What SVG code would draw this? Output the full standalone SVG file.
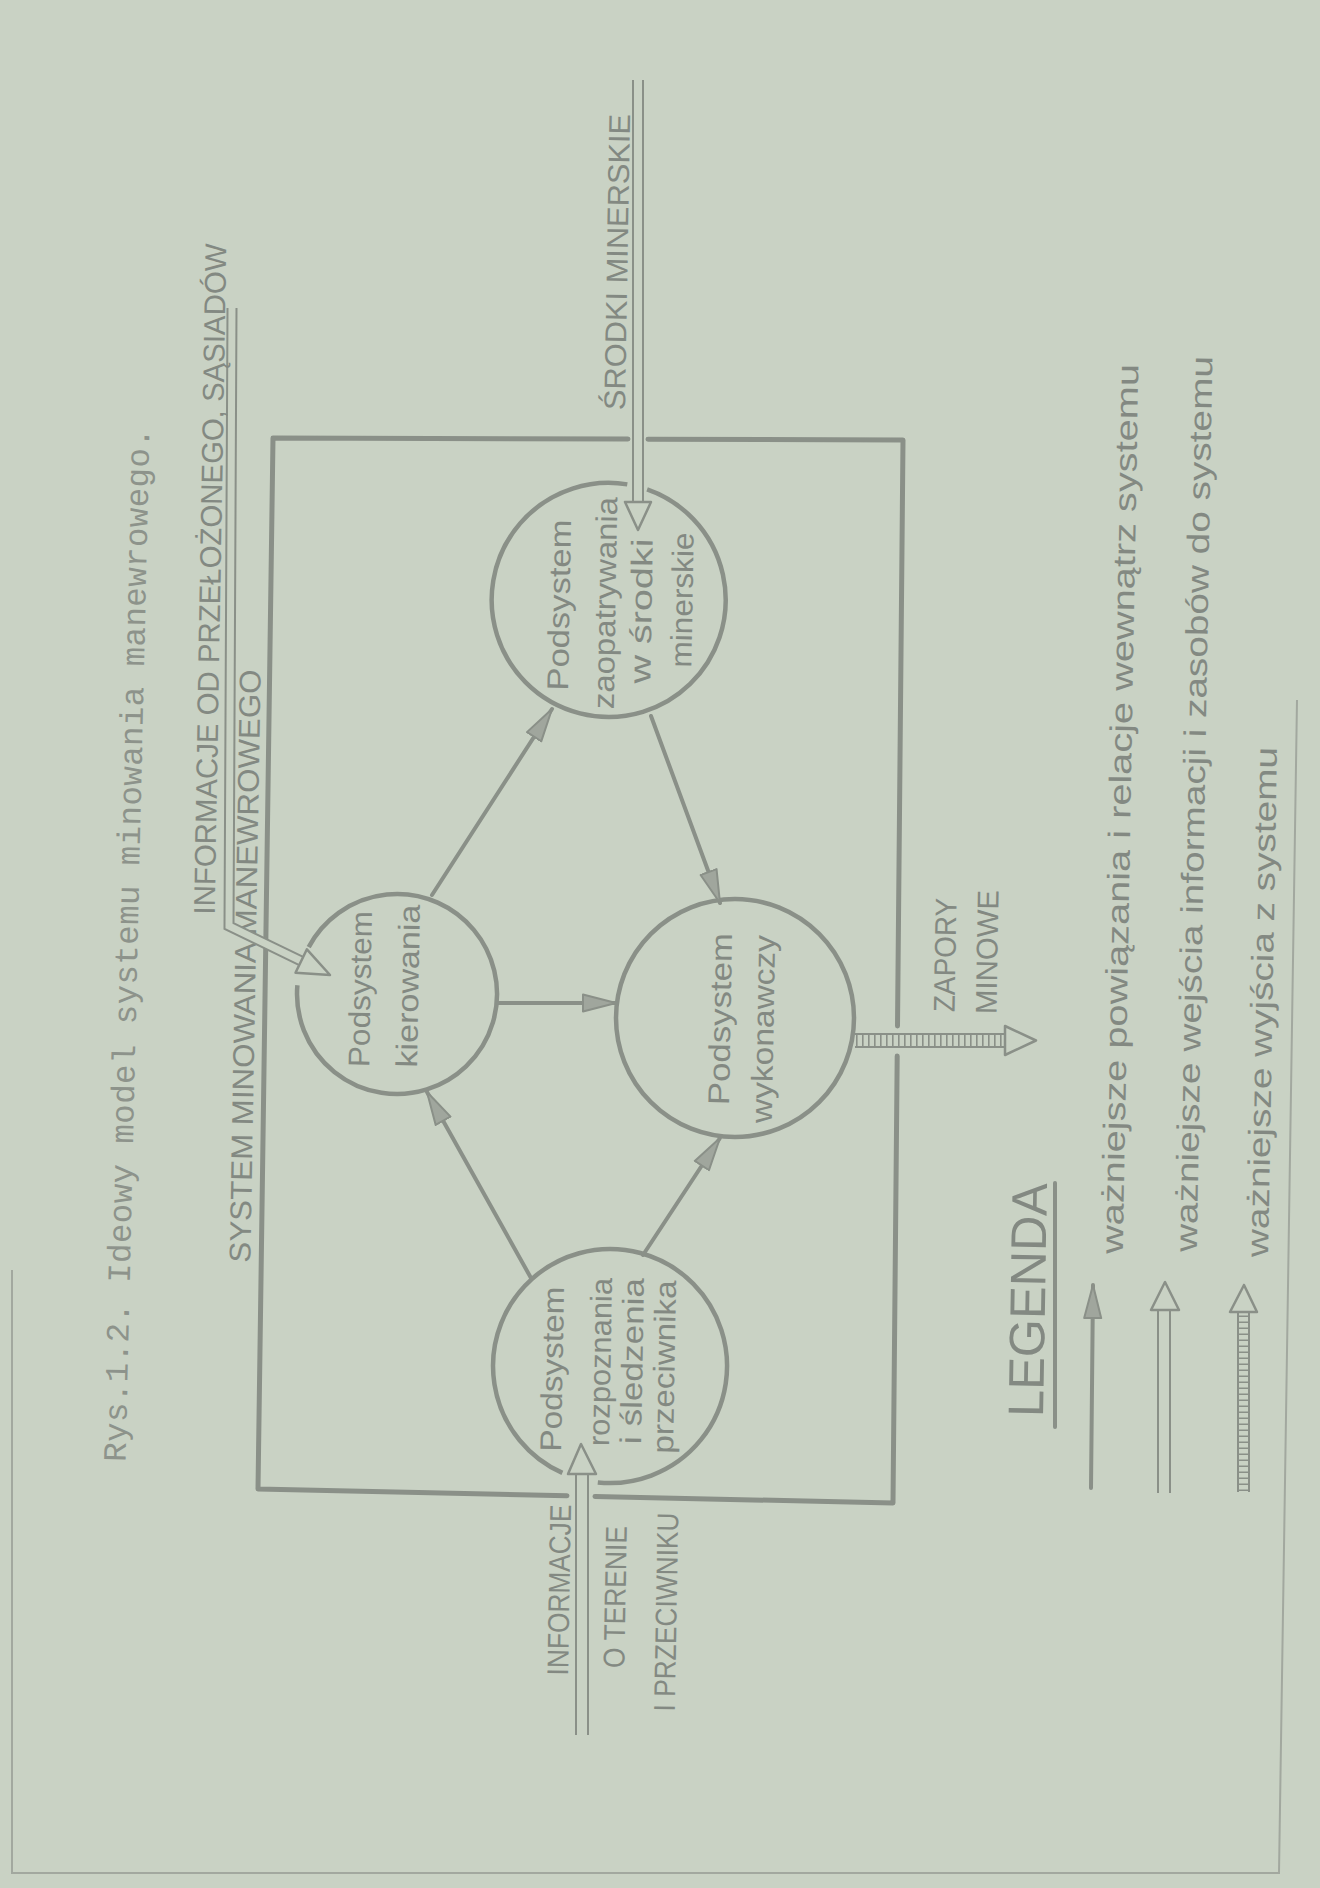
<svg xmlns="http://www.w3.org/2000/svg" width="1320" height="1888" viewBox="0 0 1320 1888">
<style>
  .ln{fill:none;stroke:#8a9088;stroke-width:4;stroke-linecap:round;stroke-linejoin:round}
  .bd{fill:none;stroke:#8a9088;stroke-width:5;stroke-linejoin:round;stroke-linecap:round}
  .node{fill:none;stroke:#8a9088;stroke-width:4.5}
  .out{fill:none;stroke:#8a9088;stroke-linejoin:miter}
  .inn{fill:none;stroke:#c9d2c4;stroke-linejoin:miter}
  .rung{fill:none;stroke:#8a9088;stroke-dasharray:1.6 4.4}
  .head{fill:#c9d2c4;stroke:#8a9088;stroke-width:2.5;stroke-linejoin:round}
  .t{font-family:"Liberation Sans","DejaVu Sans",sans-serif;fill:#838982;font-size:30px;text-anchor:middle;dominant-baseline:central}
  .cap{font-size:30px}
  .lg{font-size:31px}
  .tm{font-family:"Liberation Mono","DejaVu Sans Mono",monospace;fill:#8d938b;font-size:32.5px;text-anchor:middle;dominant-baseline:central}
  .edge{fill:none;stroke:#a2a89f;stroke-width:2}
</style>
<defs>
  <marker id="ah" markerUnits="userSpaceOnUse" markerWidth="36" markerHeight="22" viewBox="0 0 36 22" refX="34" refY="11" orient="auto">
    <path d="M1,2.5 L34,11 L1,19.5 Z" fill="#a0a69d" stroke="#8a9088" stroke-width="2" stroke-linejoin="round"/>
  </marker>
</defs>
<rect x="0" y="0" width="1320" height="1888" fill="#c9d2c4"/>

<g id="page-edge">
  <path class="edge" d="M1297 700 L1279 1873 L12 1873 L12 1270"/>
</g>

<text id="title" class="tm" transform="translate(129 945) rotate(-88.67)" textLength="1034">Rys.1.2. Ideowy model systemu minowania manewrowego.</text>

<g id="system-boundary">
  <path class="bd" d="M628 439.1 L273 438 L258 1489 L567 1495.8 M595 1496.4 L893 1503 L897.2 1056 M897.5 1026 L903 440 L648 439.2"/>
  <text class="t cap" transform="translate(245 966) rotate(-89)" textLength="593" lengthAdjust="spacingAndGlyphs">SYSTEM MINOWANIA MANEWROWEGO</text>
</g>

<g id="node-kierowania">
  <path class="node" d="M308.7 947.1 A100 100 0 1 1 297.4 985.3"/>
  <text class="t" transform="translate(360 989) rotate(-89)" textLength="156" lengthAdjust="spacingAndGlyphs">Podsystem</text>
  <text class="t" transform="translate(408 986) rotate(-89)" textLength="163" lengthAdjust="spacingAndGlyphs">kierowania</text>
</g>

<g id="node-zaopatrywania">
  <path class="node" d="M647.1 489.4 A117 117 0 1 1 627.3 484.4"/>
  <text class="t" transform="translate(559 605) rotate(-89)" textLength="171" lengthAdjust="spacingAndGlyphs">Podsystem</text>
  <text class="t" transform="translate(605 603) rotate(-89)" textLength="212" lengthAdjust="spacingAndGlyphs">zaopatrywania</text>
  <text class="t" transform="translate(641 611) rotate(-89)" textLength="145" lengthAdjust="spacingAndGlyphs">w środki</text>
  <text class="t" transform="translate(682 600) rotate(-89)" textLength="135" lengthAdjust="spacingAndGlyphs">minerskie</text>
</g>

<g id="node-wykonawczy">
  <circle class="node" cx="735" cy="1018" r="119"/>
  <text class="t" transform="translate(720 1019) rotate(-89)" textLength="172" lengthAdjust="spacingAndGlyphs">Podsystem</text>
  <text class="t" transform="translate(763 1029) rotate(-89)" textLength="188" lengthAdjust="spacingAndGlyphs">wykonawczy</text>
</g>

<g id="node-rozpoznania">
  <path class="node" d="M562.4 1472.9 A117 117 0 1 1 597.8 1482.4"/>
  <text class="t" transform="translate(552 1369) rotate(-89)" textLength="165" lengthAdjust="spacingAndGlyphs">Podsystem</text>
  <text class="t" transform="translate(600 1362) rotate(-89)" textLength="168" lengthAdjust="spacingAndGlyphs">rozpoznania</text>
  <text class="t" transform="translate(632 1361) rotate(-89)" textLength="166" lengthAdjust="spacingAndGlyphs">i śledzenia</text>
  <text class="t" transform="translate(664 1367) rotate(-89)" textLength="173" lengthAdjust="spacingAndGlyphs">przeciwnika</text>
</g>

<g id="connectors">
  <line class="ln" x1="531" y1="1278" x2="427" y2="1092" marker-end="url(#ah)"/>
  <line class="ln" x1="643" y1="1255" x2="720" y2="1138" marker-end="url(#ah)"/>
  <line class="ln" x1="498" y1="1003" x2="616" y2="1003" marker-end="url(#ah)"/>
  <line class="ln" x1="432" y1="895" x2="552" y2="709" marker-end="url(#ah)"/>
  <line class="ln" x1="651" y1="716" x2="720" y2="903" marker-end="url(#ah)"/>

  <g id="in-przelozony">
    <path class="out" stroke-width="11" d="M232 308 L229 926 L301.2 961"/>
    <path class="inn" stroke-width="7" d="M232 308 L229 926 L301.2 961"/>
    <path class="head" d="M295.5 972.7 L330 975 L306.9 949.3 Z"/>
  </g>
  <g id="in-srodki">
    <path class="out" stroke-width="12" d="M638 80 L638 503"/>
    <path class="inn" stroke-width="8" d="M638 80 L638 503"/>
    <path class="head" d="M625 502 L651 502 L638 530 Z"/>
  </g>
  <g id="in-teren">
    <path class="out" stroke-width="14" d="M582 1735 L582 1473"/>
    <path class="inn" stroke-width="10" d="M582 1735 L582 1473"/>
    <path class="head" d="M568 1474 L596 1474 L581 1444 Z"/>
  </g>
  <g id="out-zapory">
    <path class="out" stroke-width="15" d="M855 1040.5 L1006 1040.5"/>
    <path class="inn" stroke-width="11" d="M855 1040.5 L1006 1040.5"/>
    <path class="rung" stroke-width="11" d="M856 1040.5 L1005 1040.5"/>
    <path class="head" d="M1005 1026 L1036 1040.5 L1005 1055 Z"/>
  </g>
</g>

<g id="labels">
  <text class="t cap" transform="translate(210 579) rotate(-89)" textLength="671" lengthAdjust="spacingAndGlyphs">INFORMACJE OD PRZEŁOŻONEGO, SĄSIADÓW</text>
  <text class="t cap" transform="translate(617 262) rotate(-89)" textLength="296" lengthAdjust="spacingAndGlyphs">ŚRODKI MINERSKIE</text>
  <text class="t cap" transform="translate(559 1590) rotate(-89)" textLength="171" lengthAdjust="spacingAndGlyphs">INFORMACJE</text>
  <text class="t cap" transform="translate(615 1597) rotate(-89)" textLength="142" lengthAdjust="spacingAndGlyphs">O TERENIE</text>
  <text class="t cap" transform="translate(666 1612) rotate(-89)" textLength="199" lengthAdjust="spacingAndGlyphs">I PRZECIWNIKU</text>
  <text class="t cap" transform="translate(945 955) rotate(-89)" textLength="114" lengthAdjust="spacingAndGlyphs">ZAPORY</text>
  <text class="t cap" transform="translate(987 952) rotate(-89)" textLength="124" lengthAdjust="spacingAndGlyphs">MINOWE</text>
</g>

<g id="legend">
  <text class="t" style="font-size:50px" transform="translate(1028 1300) rotate(-89)" textLength="234" lengthAdjust="spacingAndGlyphs">LEGENDA</text>
  <line class="ln" stroke-width="3" x1="1055" y1="1183" x2="1055" y2="1427"/>

  <line class="ln" x1="1091" y1="1488" x2="1093" y2="1285" marker-end="url(#ah)"/>
  <text class="t lg" transform="translate(1120 809) rotate(-89)" textLength="890" lengthAdjust="spacingAndGlyphs">ważniejsze powiązania i relacje wewnątrz systemu</text>

  <path class="out" stroke-width="14" d="M1164 1493 L1164 1309"/>
  <path class="inn" stroke-width="10" d="M1164 1493 L1164 1309"/>
  <path class="head" d="M1151 1310 L1179 1310 L1165 1282 Z"/>
  <text class="t lg" transform="translate(1194 804) rotate(-89)" textLength="896" lengthAdjust="spacingAndGlyphs">ważniejsze wejścia informacji i zasobów do systemu</text>

  <path class="out" stroke-width="13" d="M1243.5 1492 L1243.5 1311"/>
  <path class="inn" stroke-width="9" d="M1243.5 1492 L1243.5 1311"/>
  <path class="rung" stroke-width="9" d="M1243.5 1491 L1243.5 1313"/>
  <path class="head" d="M1230 1312 L1257 1312 L1244 1285 Z"/>
  <text class="t lg" transform="translate(1262 1002) rotate(-89)" textLength="510" lengthAdjust="spacingAndGlyphs">ważniejsze wyjścia z systemu</text>
</g>
</svg>
